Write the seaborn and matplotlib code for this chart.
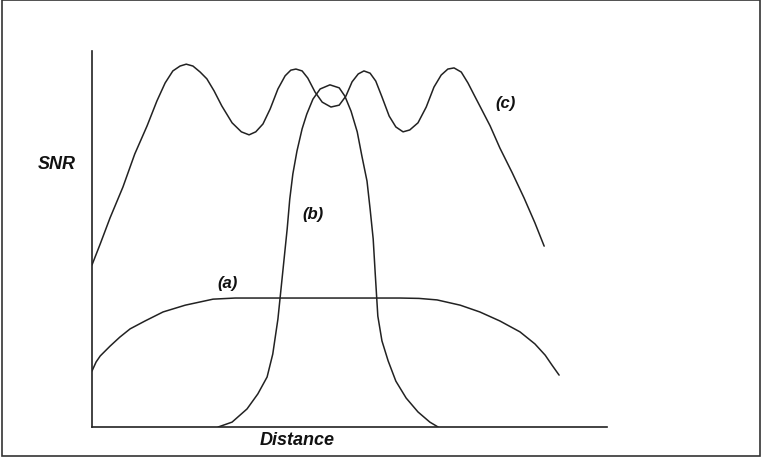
import matplotlib
matplotlib.use("Agg")
import matplotlib.pyplot as plt
import seaborn as sns
from matplotlib.patches import Rectangle

# =====================
# Curve data (arbitrary 0-100 units)
# =====================
a_x = [0.0, 0.8, 1.6, 3.5, 5.4, 7.4, 10.3, 13.8, 18.1, 23.5, 27.8, 40.4, 59.8,
       63.5, 67.0, 71.5, 75.3, 79.2, 83.1, 86.0, 88.0, 89.3, 90.7]
a_y = [14.9, 17.3, 18.9, 21.5, 23.9, 26.1, 28.2, 30.6, 32.4, 34.0, 34.3, 34.3, 34.3,
       34.2, 33.8, 32.4, 30.6, 28.2, 25.3, 22.1, 19.1, 16.5, 13.8]

b_x = [24.5, 27.2, 30.1, 32.2, 34.0, 35.1, 36.1, 36.7, 37.3, 37.9, 38.4, 39.0, 39.8,
       40.8, 41.7, 42.9, 44.3, 46.2, 48.0, 49.1, 50.3, 51.5, 52.4, 53.4, 54.0, 54.6,
       55.0, 55.5, 56.3, 57.5, 59.0, 61.0, 63.3, 65.6, 67.2]
b_y = [0.0, 1.3, 4.8, 8.8, 13.3, 19.4, 28.7, 36.7, 44.7, 52.7, 60.6, 67.3, 73.4,
       79.3, 83.2, 87.2, 89.9, 91.0, 90.2, 88.0, 84.0, 78.5, 72.1, 65.4, 58.0, 50.0,
       40.7, 29.5, 22.9, 17.6, 12.2, 7.7, 4.0, 1.3, 0.0]

c_x = [0.0, 1.6, 3.5, 6.0, 8.3, 10.7, 12.6, 14.2, 15.7, 17.1, 18.3, 19.6, 21.0,
       22.3, 23.7, 25.2, 27.2, 29.0, 30.5, 31.8, 33.2, 34.6, 36.1, 37.5, 38.6, 39.6,
       40.8, 41.9, 43.3, 44.7, 46.4, 48.0, 49.3, 50.5, 51.7, 52.8, 54.0, 55.1, 56.3,
       57.7, 59.0, 60.4, 61.7, 63.3, 64.9, 66.4, 67.8, 69.1, 70.3, 71.7, 73.0, 74.2,
       75.3, 77.3, 79.2, 81.6, 83.9, 86.0, 87.8]
c_y = [43.1, 48.7, 55.6, 63.8, 72.6, 80.1, 86.7, 91.5, 94.7, 96.0, 96.5, 96.0, 94.4,
       92.6, 89.4, 85.4, 80.9, 78.5, 77.7, 78.5, 80.6, 84.6, 89.9, 93.4, 94.9, 95.2,
       94.7, 92.8, 89.1, 86.4, 85.1, 85.6, 88.0, 91.8, 93.9, 94.7, 94.1, 92.0, 87.8,
       82.7, 79.8, 78.5, 79.0, 80.9, 85.1, 90.4, 93.6, 95.2, 95.5, 94.4, 91.5, 88.3,
       85.4, 80.1, 74.2, 67.6, 60.9, 54.3, 48.1]

curve_labels = ["(a)", "(b)", "(c)"]
label_x = [26.4, 42.9, 80.2]
label_y = [38.3, 56.9, 86.2]

# =====================
# Figure
# =====================
sns.set_style("white")
plt.rcParams["font.family"] = ["Liberation Sans", "DejaVu Sans"]

fig = plt.figure(figsize=(7.67, 4.6), dpi=100)
ax = fig.add_axes([92 / 767, 32 / 460, 515 / 767, 376 / 460])

line_kw = dict(color="#222222", linewidth=1.1, sort=False, estimator=None,
               solid_joinstyle="round")
sns.lineplot(x=a_x, y=a_y, ax=ax, **line_kw)
sns.lineplot(x=b_x, y=b_y, ax=ax, **line_kw)
sns.lineplot(x=c_x, y=c_y, ax=ax, **line_kw)

ax.set_xlim(0, 100)
ax.set_ylim(0, 100)
ax.set_xticks([])
ax.set_yticks([])
sns.despine(ax=ax)
for side in ["left", "bottom"]:
    ax.spines[side].set_color("#222222")
    ax.spines[side].set_linewidth(1.2)

for lab, lx, ly in zip(curve_labels, label_x, label_y):
    ax.text(lx, ly, lab, ha="center", va="center", fontsize=12,
            fontweight="bold", style="italic", color="#111111")

ax.text(-0.068, 0.70, "SNR", transform=ax.transAxes, ha="center", va="center",
        fontsize=13, fontweight="bold", style="italic", color="#111111")
ax.text(0.398, -0.032, "Distance", transform=ax.transAxes, ha="center", va="center",
        fontsize=13, fontweight="bold", style="italic", color="#111111")

# outer frame around the whole figure
fig.patches.append(Rectangle((0.002, 0.006), 0.989, 0.991, transform=fig.transFigure,
                             fill=False, edgecolor="#333333", linewidth=1.2))

plt.savefig("out.png", dpi=100)
plt.close()
